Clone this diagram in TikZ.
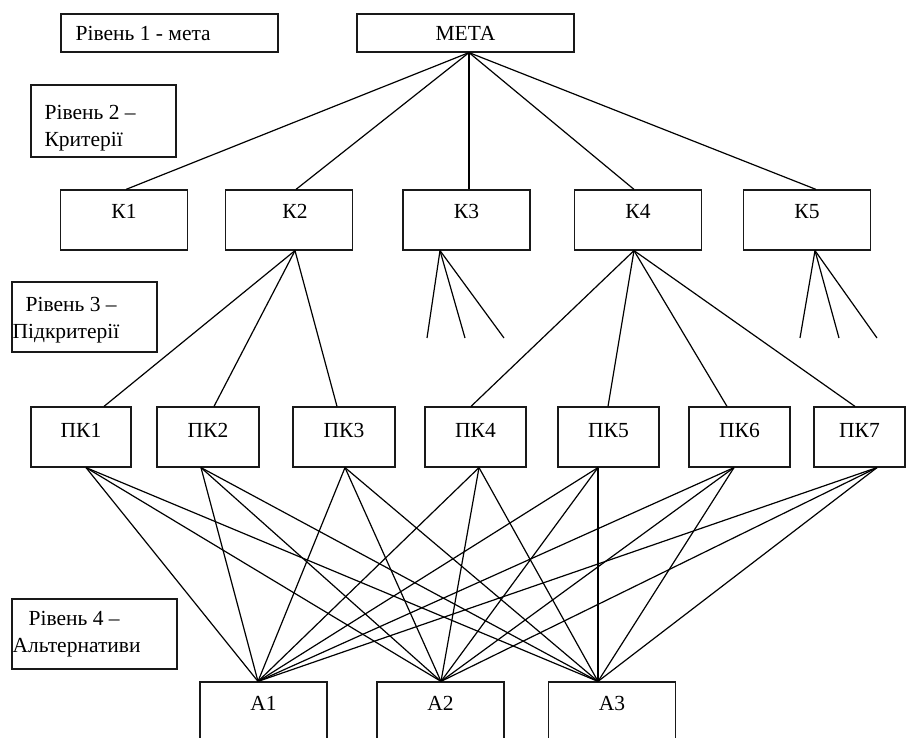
\documentclass[tikz,border=0pt]{standalone}
\usepackage{fontspec}
\setmainfont{Liberation Serif}
\begin{document}
\begin{tikzpicture}[x=1pt,y=-1pt,
  font=\fontsize{21.5}{27}\selectfont,
  box/.style={draw=black!90, line width=1.2pt, inner sep=0pt},
  lbl/.style={inner sep=0pt, anchor=north},
  lvl/.style={inner sep=0pt, anchor=north west, align=left},
  ln/.style={draw=black, line width=1.2pt}]
\useasboundingbox (0,0) rectangle (906,738);
\clip (0,0) rectangle (906,738);

% level labels
\node[box, minimum width=217pt, minimum height=38pt,
  label={[inner sep=0pt, anchor=west, xshift=15pt]west:Рівень 1 - мета}] (l1) at (169.5,33) {};
\node[box, minimum width=145pt, minimum height=72pt,
  label={[lvl, xshift=14pt, yshift=-20.5pt]north west:{Рівень 2 –\\Критерії}}] (l2) at (103.5,121) {};
\node[box, minimum width=145pt, minimum height=70pt,
  label={[lvl, xshift=1pt, yshift=-16pt]north west:{\hspace*{13pt}Рівень 3 –\\Підкритерії}}] (l3) at (84.5,317) {};
\node[box, minimum width=165pt, minimum height=70pt,
  label={[lvl, xshift=1pt, yshift=-13pt]north west:{\hspace*{16pt}Рівень 4 –\\Альтернативи}}] (l4) at (94.5,634) {};

% goal
\node[box, minimum width=217pt, minimum height=38pt] (meta) at (465.5,33) {МЕТА};

% criteria
\node[box, minimum width=127pt, minimum height=60pt, label={[lbl, yshift=-14.5pt]north:К1}] (k1) at (124,220) {};
\node[box, minimum width=127pt, minimum height=60pt, label={[lbl, yshift=-14.5pt, xshift=6pt]north:К2}] (k2) at (289,220) {};
\node[box, minimum width=127pt, minimum height=60pt, label={[lbl, yshift=-14.5pt]north:К3}] (k3) at (466.5,220) {};
\node[box, minimum width=127pt, minimum height=60pt, label={[lbl, yshift=-14.5pt]north:К4}] (k4) at (638,220) {};
\node[box, minimum width=127pt, minimum height=60pt, label={[lbl, yshift=-14.5pt]north:К5}] (k5) at (807,220) {};

% sub-criteria
\node[box, minimum width=100pt, minimum height=60pt, label={[lbl, yshift=-16.5pt]north:ПК1}] (pk1) at (81,437) {};
\node[box, minimum width=102pt, minimum height=60pt, label={[lbl, yshift=-16.5pt]north:ПК2}] (pk2) at (208,437) {};
\node[box, minimum width=102pt, minimum height=60pt, label={[lbl, yshift=-16.5pt]north:ПК3}] (pk3) at (344,437) {};
\node[box, minimum width=101pt, minimum height=60pt, label={[lbl, yshift=-16.5pt]north:ПК4}] (pk4) at (475.5,437) {};
\node[box, minimum width=101pt, minimum height=60pt, label={[lbl, yshift=-16.5pt]north:ПК5}] (pk5) at (608.5,437) {};
\node[box, minimum width=101pt, minimum height=60pt, label={[lbl, yshift=-16.5pt]north:ПК6}] (pk6) at (739.5,437) {};
\node[box, minimum width=91pt, minimum height=60pt, label={[lbl, yshift=-16.5pt]north:ПК7}] (pk7) at (859.5,437) {};

% alternatives
\node[box, minimum width=127pt, minimum height=118pt, label={[lbl, yshift=-14.5pt]north:А1}] (a1) at (263.5,741) {};
\node[box, minimum width=127pt, minimum height=118pt, label={[lbl, yshift=-14.5pt]north:А2}] (a2) at (440.5,741) {};
\node[box, minimum width=127pt, minimum height=118pt, label={[lbl, yshift=-14.5pt]north:А3}] (a3) at (612,741) {};

% free ends
\coordinate (e31) at (427,338);
\coordinate (e32) at (465,338);
\coordinate (e33) at (504,338);
\coordinate (e51) at (800,338);
\coordinate (e52) at (839,338);
\coordinate (e53) at (877,338);

% goal -> criteria
\draw[ln] ([xshift=3.5pt]meta.south) -- ([xshift=2pt]k1.north);
\draw[ln] ([xshift=3.5pt]meta.south) -- ([xshift=7pt]k2.north);
\draw[ln] ([xshift=3.5pt]meta.south) -- ([xshift=2.5pt]k3.north);
\draw[ln] ([xshift=3.5pt]meta.south) -- ([xshift=-4pt]k4.north);
\draw[ln] ([xshift=3.5pt]meta.south) -- ([xshift=9pt]k5.north);

% criteria -> sub-criteria
\draw[ln] ([xshift=6pt]k2.south) -- ([xshift=23pt]pk1.north);
\draw[ln] ([xshift=6pt]k2.south) -- ([xshift=6pt]pk2.north);
\draw[ln] ([xshift=6pt]k2.south) -- ([xshift=-7pt]pk3.north);
\draw[ln] ([xshift=-26.5pt]k3.south) -- (e31);
\draw[ln] ([xshift=-26.5pt]k3.south) -- (e32);
\draw[ln] ([xshift=-26.5pt]k3.south) -- (e33);
\draw[ln] ([xshift=-4pt]k4.south) -- ([xshift=-4.5pt]pk4.north);
\draw[ln] ([xshift=-4pt]k4.south) -- ([xshift=-0.5pt]pk5.north);
\draw[ln] ([xshift=-4pt]k4.south) -- ([xshift=-12.5pt]pk6.north);
\draw[ln] ([xshift=-4pt]k4.south) -- ([xshift=-4.5pt]pk7.north);
\draw[ln] ([xshift=8pt]k5.south) -- (e51);
\draw[ln] ([xshift=8pt]k5.south) -- (e52);
\draw[ln] ([xshift=8pt]k5.south) -- (e53);

% sub-criteria -> alternatives
\foreach \p/\ps in {pk1/5, pk2/-7, pk3/1, pk4/3.5, pk5/-10.5, pk6/-5.5, pk7/17.5}
  \foreach \a/\as in {a1/-5.5, a2/0.5, a3/-14}
    \draw[ln] ([xshift=\ps pt]\p.south) -- ([xshift=\as pt]\a.north);
\end{tikzpicture}
\end{document}
